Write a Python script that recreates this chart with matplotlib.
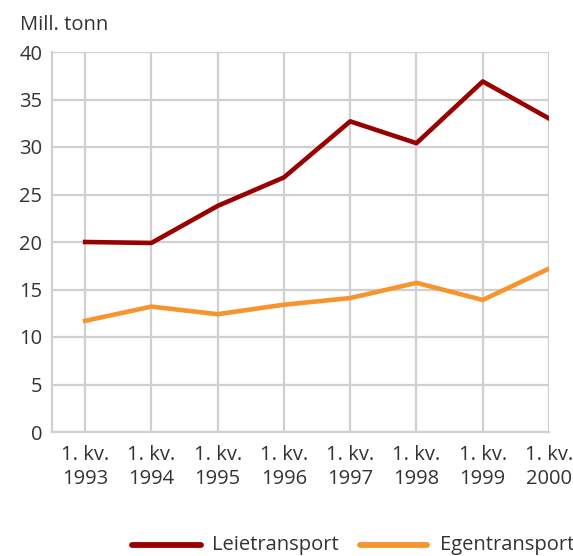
import numpy as np
import matplotlib
matplotlib.use("Agg")
import matplotlib.pyplot as plt
from matplotlib.lines import Line2D

plt.rcParams['font.family'] = ['Open Sans', 'DejaVu Sans']

# Data
periods = ["1. kv.\n1993", "1. kv.\n1994", "1. kv.\n1995", "1. kv.\n1996",
           "1. kv.\n1997", "1. kv.\n1998", "1. kv.\n1999", "1. kv.\n2000"]
leietransport = [20.0, 19.9, 23.8, 26.8, 32.7, 30.4, 36.9, 33.0]
egentransport = [11.7, 13.2, 12.4, 13.4, 14.1, 15.7, 13.9, 17.2]
series_names = ["Leietransport", "Egentransport"]

red = "#990000"
orange = "#F7942E"
grid_col = "#d0d0d0"
text_col = "#333333"
fs = 14.5

fig = plt.figure(figsize=(5.73, 5.56), dpi=100)
ax = fig.add_axes([52/573, 1 - 432/556, (549 - 52)/573, (432 - 52)/556])

x = np.arange(len(periods))
ax.plot(x, leietransport, color=red, lw=3.3, zorder=3)
ax.plot(x, egentransport, color=orange, lw=3.3, zorder=3)

ax.set_xlim(-0.5, len(periods) - 1)
ax.set_ylim(0, 40)
ax.set_yticks(range(0, 41, 5))
ax.set_xticks(x)
ax.set_xticklabels(periods, linespacing=1.3)

ax.grid(True, color=grid_col, lw=1.6)
ax.set_axisbelow(True)
for side in ["top", "right"]:
    ax.spines[side].set_visible(False)
for side in ["left", "bottom"]:
    ax.spines[side].set_color(grid_col)
    ax.spines[side].set_linewidth(1.6)
ax.tick_params(length=0, labelsize=fs, colors=text_col)
ax.tick_params(axis="x", pad=9)
ax.tick_params(axis="y", pad=7)

fig.text(20/573, 1 - 25/556, "Mill. tonn", fontsize=fs, color=text_col, va="center")

# legend drawn by hand to sit where the reference has it
leg_y = 1 - 545/556
for (x0, x1, tx), col, name in zip([(132, 201, 212), (360, 427, 440)],
                                   [red, orange], series_names):
    fig.add_artist(Line2D([x0/573, x1/573], [leg_y, leg_y], color=col, lw=4.2,
                          solid_capstyle="round"))
    fig.text(tx/573, leg_y, name, fontsize=fs, color=text_col, va="center")

fig.savefig("out.png", dpi=100)
